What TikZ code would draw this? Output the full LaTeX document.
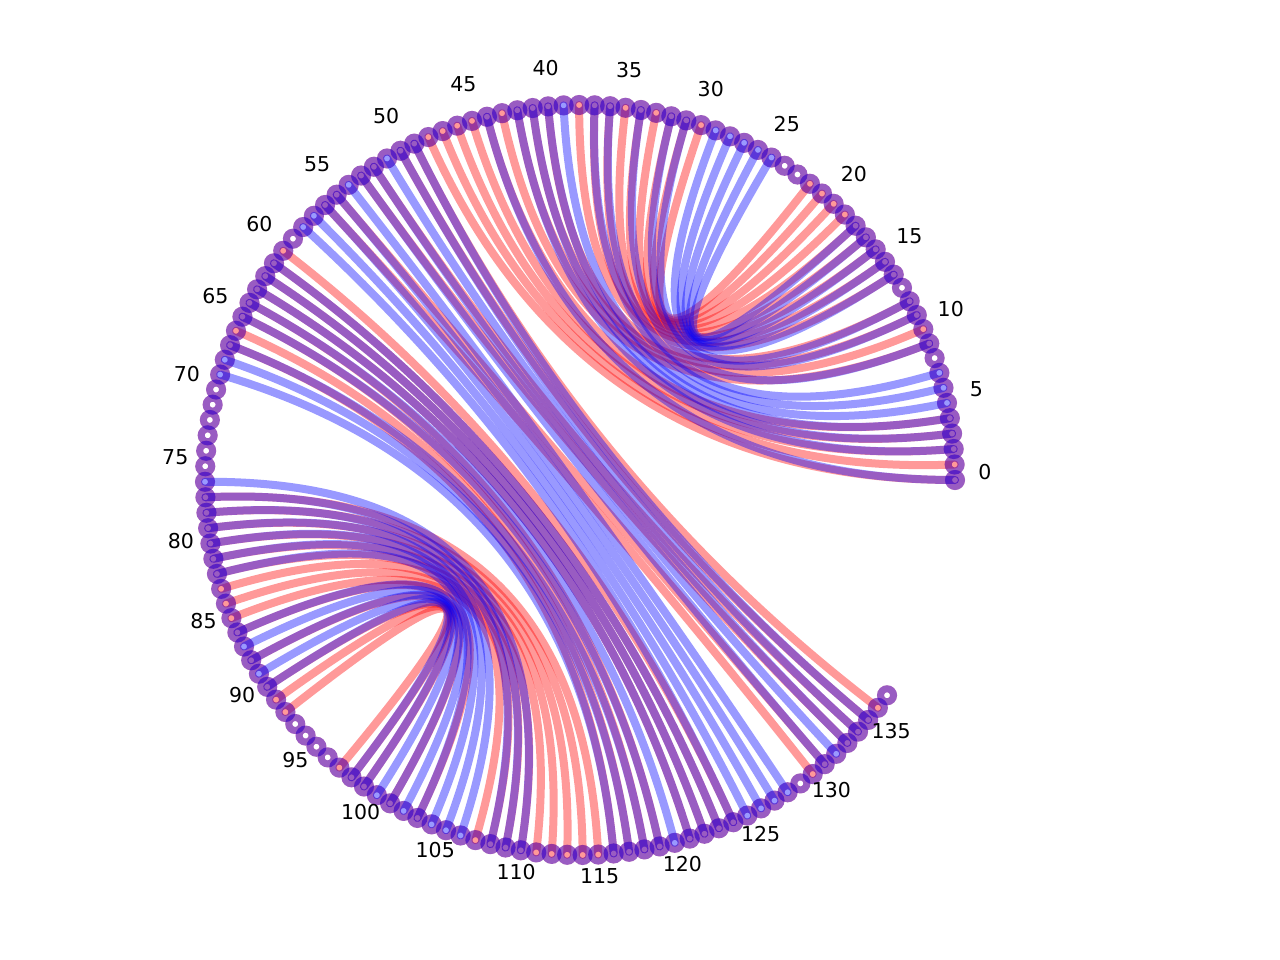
\documentclass[tikz,border=0pt]{standalone}
\usepackage{fontspec}
\setmainfont{DejaVu Sans}
\usetikzlibrary{calc}
\tikzset{redlink/.style={draw=red, draw opacity=0.4, line width=8pt, line cap=round},
  bluelink/.style={draw=blue, draw opacity=0.4, line width=8pt, line cap=round},
  redring/.style={draw=red, draw opacity=0.4, line width=7pt},
  bluering/.style={draw=blue, draw opacity=0.4, line width=7pt},
  idx/.style={font=\fontsize{20.5}{24}\selectfont, inner sep=0pt}}
\newcommand{\arcstep}{2.372}
\newcommand{\chord}[3]{\draw[#1] (n#2) .. controls ($(n#2)!0.6667!(c)$) and ($(n#3)!0.6667!(c)$) .. (n#3);}

\begin{document}
\begin{tikzpicture}[x=1pt, y=-1pt]
  \useasboundingbox (0,0) rectangle (1280,960);
  \coordinate (c) at (580,480);
  % positions on the circle
  \foreach \i in {0,...,137}
    {\coordinate (n\i) at ({580+375*cos(\i*\arcstep)}, {480-375*sin(\i*\arcstep)});}
  % red pairs
  \foreach \a/\b in {22/30,21/31,20/32,19/33,18/34,17/35,16/36,15/37,14/38,12/40,11/41,10/42,9/43,4/44,3/45,2/46,1/47,0/48,
      49/136,50/135,52/134,53/133,55/131,56/130,60/124,61/123,62/122,63/121,64/119,65/118,66/117,67/116,
      92/97,91/98,90/99,88/101,86/103,85/107,84/108,83/109,82/110,81/111,80/112,79/113,78/114,77/115}
    {\chord{redlink}{\a}{\b}}
  \foreach \i in {0,...,137}
    {\draw[redring] (n\i) circle[radius=6.5];}
  % blue pairs
  \foreach \a/\b in {18/25,17/26,16/27,15/28,14/29,12/31,11/32,9/34,7/36,6/37,5/39,4/40,3/41,2/42,0/44,
      49/135,50/134,51/133,52/132,53/131,54/128,55/127,56/126,57/125,58/124,61/123,62/122,63/121,64/120,65/119,67/118,68/117,69/116,
      90/98,89/99,88/100,87/101,86/102,82/103,81/104,80/105,79/106,78/108,77/109,76/110}
    {\chord{bluelink}{\a}{\b}}
  \foreach \i in {0,...,137}
    {\draw[bluering] (n\i) circle[radius=6.5];}
  % index labels
  \foreach \i in {0,5,...,135}
    {\node[idx] (l\i) at ({580+405*cos(\i*\arcstep)}, {472-405*sin(\i*\arcstep)}) {\i};}
\end{tikzpicture}
\end{document}
